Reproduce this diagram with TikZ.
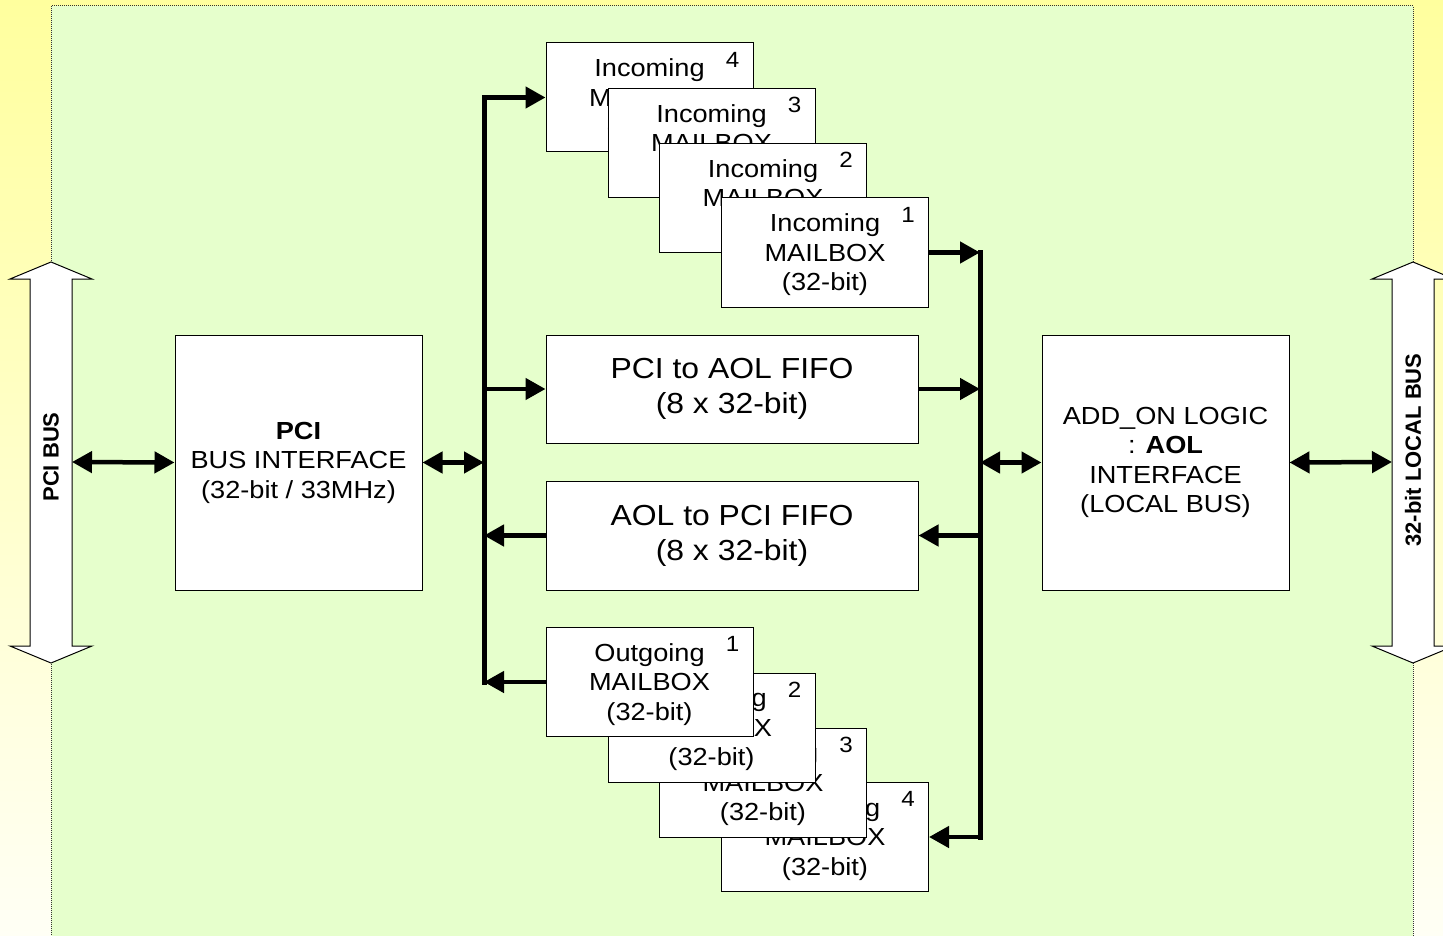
\documentclass[tikz,border=0pt]{standalone}
\usepackage{fontspec}
\setmainfont{Liberation Sans}[FakeStretch=1.1]
\newfontfamily\plainsans{Liberation Sans}
\usetikzlibrary{arrows.meta,calc}
\definecolor{bgyellow}{RGB}{255,255,158}
\definecolor{bgwhite}{RGB}{255,255,245}
\definecolor{panelgreen}{RGB}{230,255,204}
\tikzset{
 box/.style={draw=black, line width=1pt, fill=white, inner sep=0pt, align=center, font=\fontsize{24.7}{29.5}\selectfont},
 mbox/.style={box, minimum width=207pt, minimum height=109pt, text depth=0pt},
 fifo/.style={box, minimum width=372pt, minimum height=108pt, font=\fontsize{29}{35}\selectfont},
 bigbox/.style={box, minimum width=247pt, minimum height=255pt},
 numlbl/.style={font=\fontsize{22}{22}\selectfont, inner sep=0pt, anchor=center, xshift=-21pt, yshift=-17pt},
 tip/.tip={Triangle[length=20pt 0 0,width=21pt 0 0]},
 conn/.style={line width=4.5pt, -tip},
 dconn/.style={line width=4.5pt, tip-tip},
 busline/.style={line width=5pt, line cap=rect},
 bigarrow/.style={draw=black, fill=white, line width=1pt, line join=miter},
 buslbl/.style={font=\plainsans\bfseries\fontsize{22}{22}\selectfont, inner sep=0pt},
}
\begin{document}
\begin{tikzpicture}[x=1pt,y=-1pt]
\useasboundingbox (0,0) rectangle (1443,936);
% background
\shade[top color=bgyellow, bottom color=bgwhite] (0,0) rectangle (1443,936);
\path[fill=panelgreen, draw=black!80, line width=1pt, densely dotted] (51,6) rectangle (1413,950);
% big bus arrows
\draw[bigarrow] (51,262) -- (92,279) -- (72,279) -- (72,646) -- (92,646) -- (51,663) -- (10,646) -- (30,646) -- (30,279) -- (10,279) -- cycle;
\draw[bigarrow] (1413,262) -- (1454,279) -- (1434,279) -- (1434,646) -- (1454,646) -- (1413,663) -- (1372,646) -- (1392,646) -- (1392,279) -- (1372,279) -- cycle;
\node[buslbl, rotate=90] (pcibuslbl) at (51,457) {PCI BUS};
\node[buslbl, rotate=90] (localbuslbl) at (1413,450) {32-bit LOCAL BUS};
\coordinate (PB) at (72,462);
\coordinate (LB) at (1392,462);
% main boxes
\node[bigbox] (pciif) at (298.5,462.5) {\textbf{PCI}\\BUS INTERFACE\\(32-bit / 33MHz)};
\node[bigbox] (aol) at (1165.5,462.5) {ADD\_ON LOGIC\\: \textbf{AOL}\\INTERFACE\\(LOCAL BUS)};
\node[fifo] (pa) at (732,389) {PCI to AOL FIFO\\(8 x 32-bit)};
\node[fifo, minimum height=109pt] (ap) at (732,535.5) {AOL to PCI FIFO\\(8 x 32-bit)};
% incoming mailboxes
\node[mbox, label={[numlbl]north east:4}] (in4) at (649.5,97.5) {Incoming\\MAILBOX\\(32-bit)};
\node[mbox, label={[numlbl]north east:3}] (in3) at (711.5,143) {Incoming\\MAILBOX\\(32-bit)};
\node[mbox, label={[numlbl]north east:2}] (in2) at (763,198) {Incoming\\MAILBOX\\(32-bit)};
\node[mbox, label={[numlbl]north east:1}] (in1) at (825,252.5) {Incoming\\MAILBOX\\(32-bit)};
% outgoing mailboxes
\node[mbox, label={[numlbl]north east:4}] (out4) at (825,837) {Outgoing\\MAILBOX\\(32-bit)};
\node[mbox, label={[numlbl]north east:3}] (out3) at (763,782.5) {Outgoing\\MAILBOX\\(32-bit)};
\node[mbox, label={[numlbl]north east:2}] (out2) at (711.5,727.5) {Outgoing\\MAILBOX\\(32-bit)};
\node[mbox, label={[numlbl]north east:1}] (out1) at (649.5,682) {Outgoing\\MAILBOX\\(32-bit)};
% internal buses
\coordinate (LBt) at (484,97.5);
\coordinate (LBb) at (484,682);
\coordinate (RBt) at (980,252.5);
\coordinate (RBb) at (980,837);
\draw[busline] (LBt) -- (LBb);
\draw[busline] (RBt) -- (RBb);
% left side connectors
\draw[conn] (LBt) -- (in4.west);
\draw[conn] (pa.west -| LBt) -- (pa.west);
\draw[conn] (ap.west) -- (ap.west -| LBt);
\draw[conn] (out1.west) -- (LBb);
\draw[dconn] (pciif.east) -- (pciif.east -| LBt);
\draw[dconn] (PB) -- (pciif.west);
% right side connectors
\draw[conn] (in1.east) -- (RBt);
\draw[conn] (pa.east) -- (pa.east -| RBt);
\draw[conn] (ap.east -| RBt) -- (ap.east);
\draw[conn] (RBb) -- (out4.east);
\draw[dconn] (aol.west -| RBt) -- (aol.west);
\draw[dconn] (aol.east) -- (LB);
\end{tikzpicture}
\end{document}
